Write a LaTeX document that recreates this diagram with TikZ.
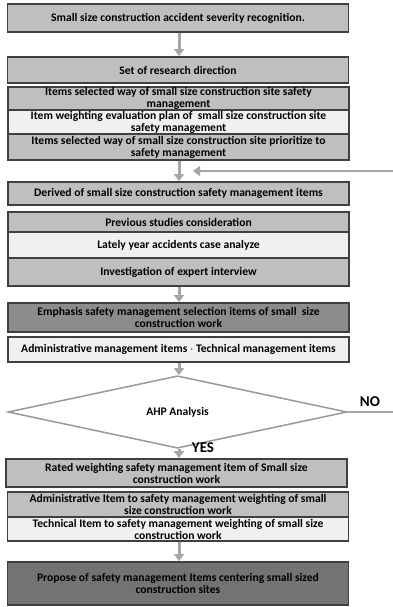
\documentclass[tikz,border=0pt]{standalone}
\usepackage{fontspec}
\setmainfont{Carlito}
\usepackage{tikz}
\usetikzlibrary{arrows.meta,shapes.geometric}

\tikzset{
  box/.style={draw=black!75, line width=1.8pt, fill=black!25, minimum width=341pt,
    inner sep=0pt, align=center, font=\bfseries\fontsize{11.6}{12}\selectfont},
  boxlight/.style={box, fill=black!6},
  boxdark/.style={box, fill=black!45},
  boxdeep/.style={box, fill=black!55},
  flow/.style={draw=black!35, line width=3pt, -{Triangle[width=10pt,length=7pt]}},
  answer/.style={font=\bfseries\fontsize{15}{17}\selectfont}
}

\begin{document}
\begin{tikzpicture}[x=1pt, y=-1pt]
        \useasboundingbox (0,0) rectangle (392,607);

        \node[box, minimum height=28pt] (recog) at (178,18) {Small size construction accident severity recognition.};
        \node[box, minimum height=26pt] (direction) at (178,70) {Set of research direction};
        \node[box, minimum height=23pt] (selway) at (178.5,98.5) {Items selected way of small size construction site safety\\management};
        \node[boxlight, minimum height=24pt] (weightplan) at (178.5,122) {Item weighting evaluation plan of \ small size construction site\\safety management};
        \node[box, minimum height=26pt] (priority) at (178.5,147) {Items selected way of small size construction site prioritize to\\safety management};

        \node[box, minimum height=23pt] (derived) at (178.5,193.5) {Derived of small size construction safety management items};
        \node[box, minimum height=20pt] (studies) at (178.5,222) {Previous studies consideration};
        \node[boxlight, minimum height=26pt] (cases) at (178.5,245) {Lately year accidents case analyze};
        \node[box, minimum height=28pt] (interview) at (178.5,272) {Investigation of expert interview};

        \node[boxdark, minimum height=29pt] (emphasis) at (178.5,317.5) {Emphasis safety management selection items of small \ size\\construction work};
        \node[boxlight, minimum height=25pt] (mgmt) at (178.5,349.5) {Administrative management items $\cdot$ Technical management items};

        \node[diamond, draw=black!40, line width=1.5pt, fill=white, minimum width=339pt, minimum height=54pt,
          inner sep=0pt, font=\bfseries\fontsize{11.6}{13}\selectfont] (ahp) at (177.5,412) {AHP Analysis};

        \node[box, minimum height=28pt] (rated) at (176.5,473) {Rated weighting safety management item of Small size\\construction work};
        \node[box, minimum height=25pt] (adminw) at (178,504.5) {Administrative Item to safety management weighting of small\\size construction work};
        \node[boxlight, minimum height=24pt] (techw) at (178,529) {Technical Item to safety management weighting of small size\\construction work};
        \node[boxdeep, minimum height=43pt] (propose) at (178,583.5) {Propose of safety management Items centering small sized\\construction sites};

        \node[answer] (no) at (370,402) {NO};
        \node[answer] (yes) at (203,448) {YES};

        \coordinate (loopx) at (396,171);
        \coordinate (loopend) at (193,171);

        \draw [flow] (recog.south -| 179,0) -- (direction.north -| 179,0);
        \draw [flow] (priority.south -| 179,0) -- (derived.north -| 179,0);
        \draw [flow] (interview.south -| 179,0) -- (emphasis.north -| 179,0);
        \draw [flow] (mgmt.south -| 179,0) -- (ahp.north -| 179,0);
        \draw [flow] (ahp.south -| 179,0) -- (rated.north -| 179,0);
        \draw [flow] (techw.south -| 179,0) -- (propose.north -| 179,0);

        \draw [flow, line width=2.5pt] (ahp.east) -- (ahp.east -| loopx) -- (loopx) -- (loopend);
\end{tikzpicture}
\end{document}
